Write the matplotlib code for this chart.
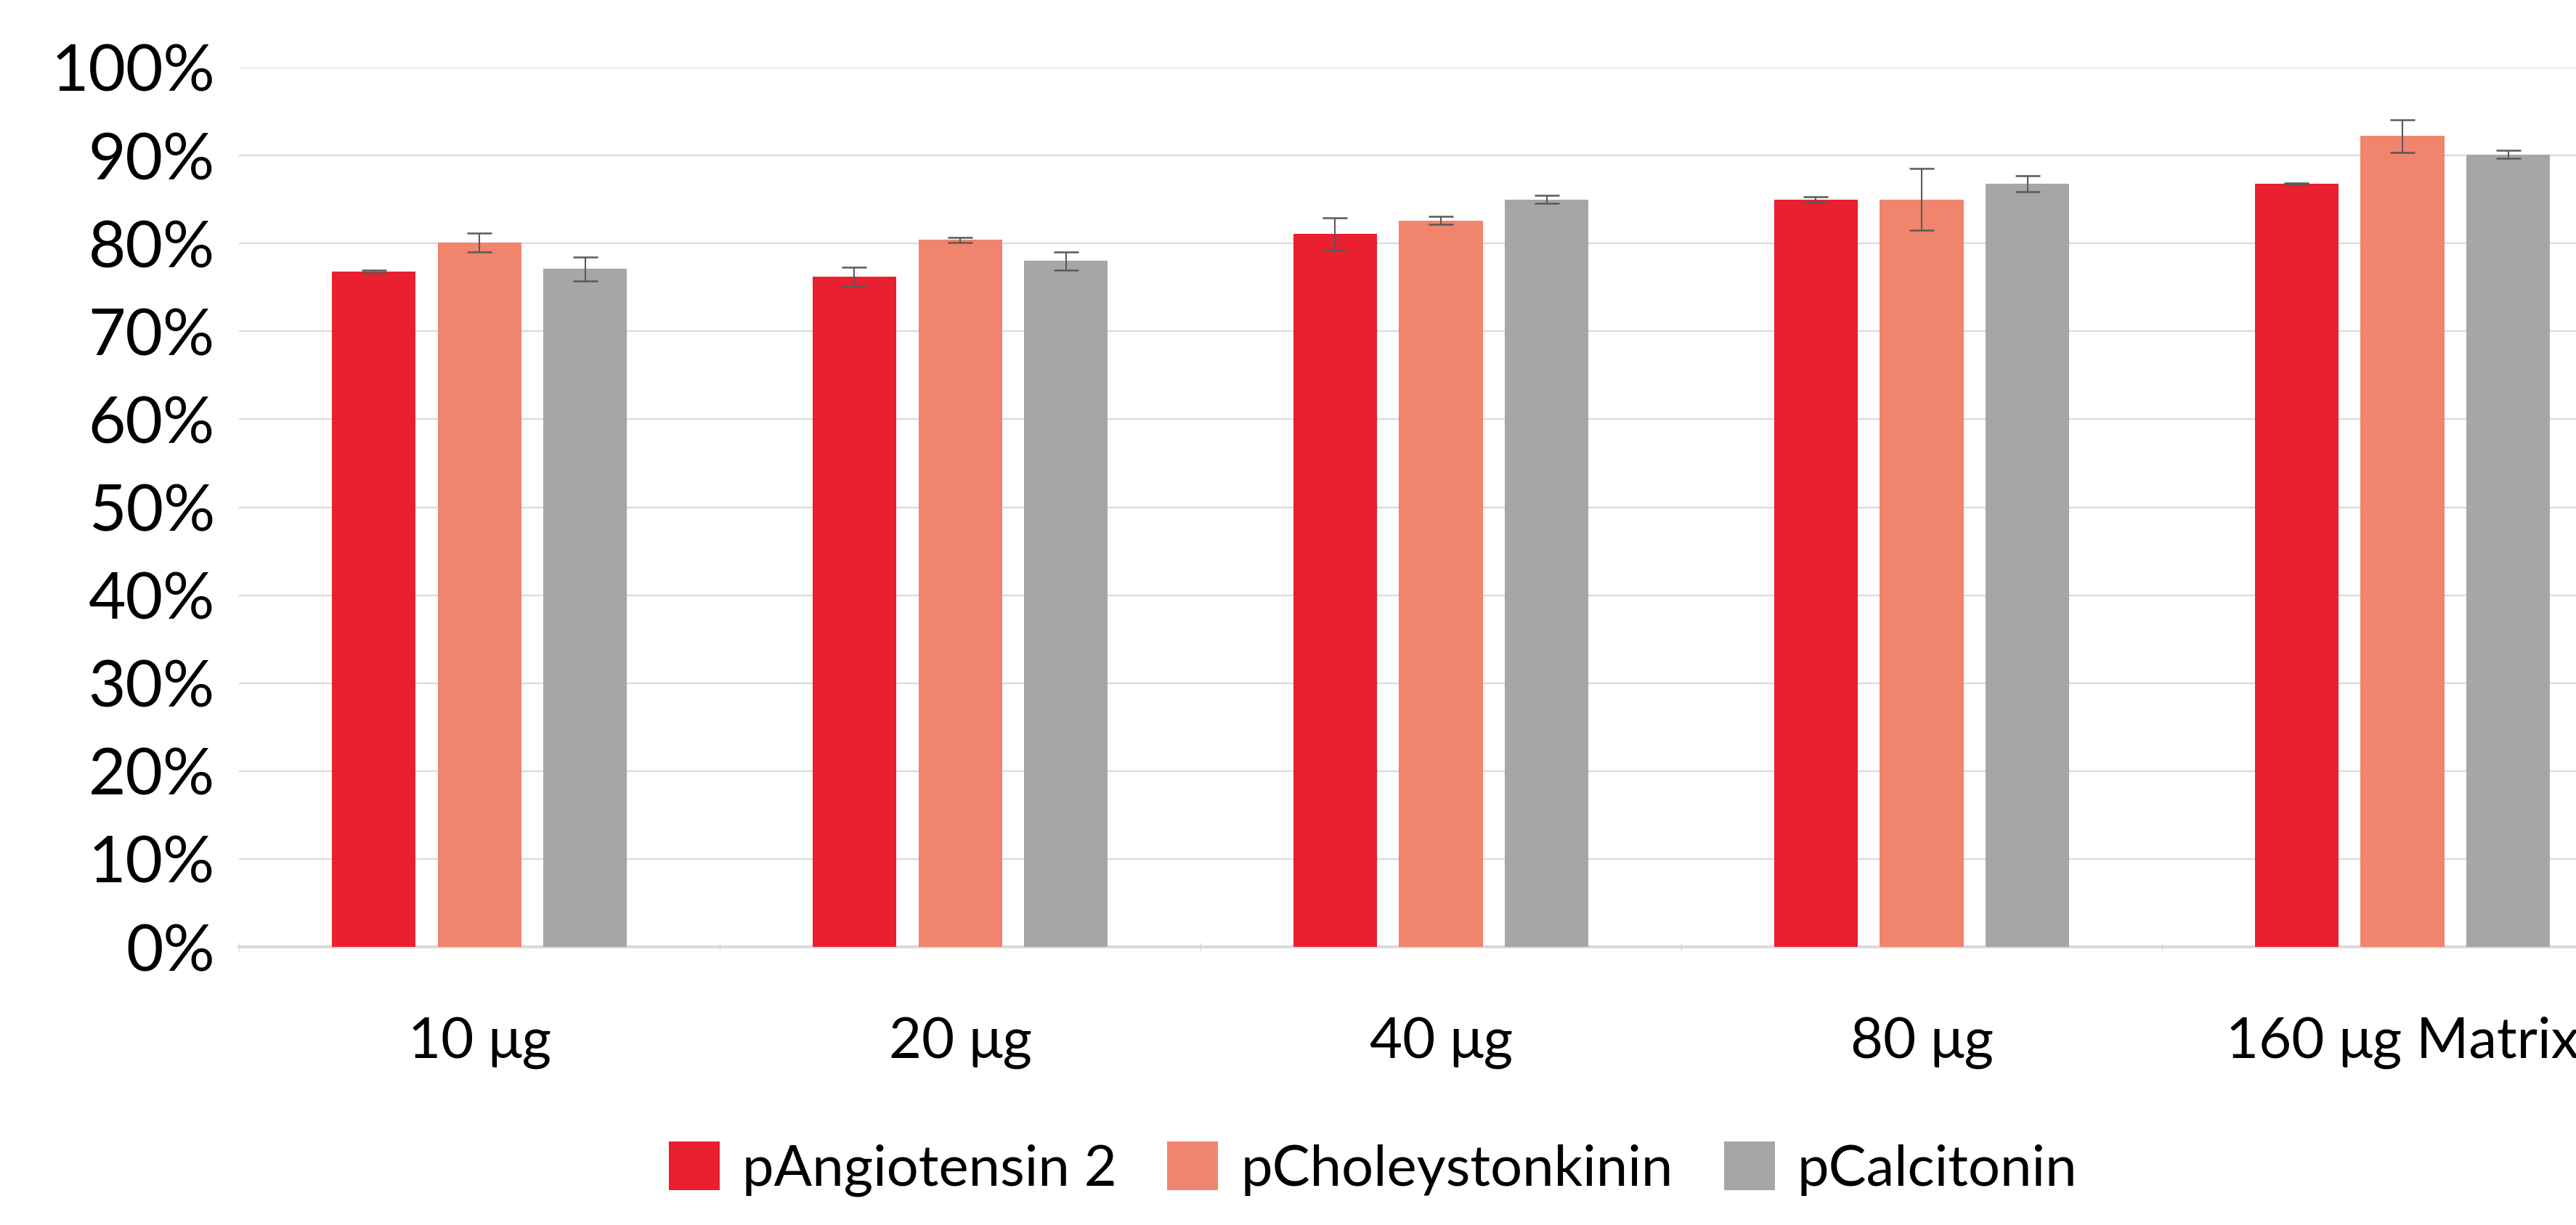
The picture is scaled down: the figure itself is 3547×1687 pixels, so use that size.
import matplotlib
matplotlib.use("Agg")
import matplotlib.pyplot as plt
import numpy as np
from matplotlib.ticker import PercentFormatter

plt.rcParams['font.family'] = ['Lato', 'DejaVu Sans']

categories = ["10 μg", "20 μg", "40 μg", "80 μg", "160 μg Matrix"]
series = ["pAngiotensin 2", "pCholeystonkinin", "pCalcitonin"]
angiotensin = [76.8, 76.2, 81.1, 85.0, 86.8]
angiotensin_err = [0.15, 1.05, 1.8, 0.3, 0.1]
cholecystokinin = [80.1, 80.4, 82.6, 85.0, 92.2]
cholecystokinin_err = [1.05, 0.3, 0.45, 3.5, 1.85]
calcitonin = [77.1, 78.0, 85.0, 86.8, 90.1]
calcitonin_err = [1.35, 1.05, 0.45, 0.9, 0.45]

colors = ["#EA1F2F", "#F0846D", "#A5A6A5"]

fig = plt.figure(figsize=(35.47, 16.87), dpi=100)
ax = fig.add_axes([0.0928, 0.2270, 0.9072, 0.7179])

x = np.arange(len(categories))
width = 0.174
offset = 0.22
for i, (vals, errs) in enumerate([(angiotensin, angiotensin_err),
                                  (cholecystokinin, cholecystokinin_err),
                                  (calcitonin, calcitonin_err)]):
    ax.bar(x + (i - 1) * offset, vals, width, color=colors[i], label=series[i], zorder=3)
    ax.errorbar(x + (i - 1) * offset, vals, yerr=errs, fmt="none", ecolor="#595959",
                elinewidth=1.5, capsize=12, capthick=1.8, zorder=4)

ax.set_yticks(np.arange(0, 101, 10))
ax.yaxis.set_major_formatter(PercentFormatter(decimals=0))
ax.set_xticks(x)
ax.set_xticklabels(categories)
ax.set_xticks(np.arange(len(categories) + 1) - 0.5, minor=True)
# the original chart is cut off on the right
ax.set_ylim(0, 100)
ax.set_xlim(-0.5, -0.5 + (3547 - 329) / 662)

ax.grid(axis="y", color="#D9D9D9", linewidth=1.5, zorder=0)
for s in ["top", "right", "left"]:
    ax.spines[s].set_visible(False)
ax.spines["bottom"].set_color("#D9D9D9")
ax.spines["bottom"].set_linewidth(2.8)

ax.tick_params(axis="y", length=0, pad=24, labelsize=64)
ax.tick_params(axis="x", which="major", length=0, pad=69, labelsize=56)
ax.tick_params(axis="x", which="minor", direction="inout", length=8, width=0.8, color="#D9D9D9")

leg = fig.legend(loc="center", bbox_to_anchor=(0.533, 0.0456), ncol=3, frameon=False,
                 fontsize=56, handlelength=0.9, handleheight=0.95, handletextpad=0.4,
                 columnspacing=0.9)

fig.savefig("out.png", dpi=100)
